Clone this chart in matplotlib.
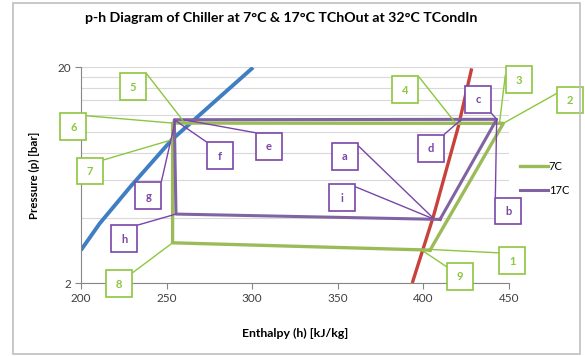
import numpy as np
import matplotlib
matplotlib.use('Agg')
import matplotlib.pyplot as plt
from matplotlib.patches import Rectangle
from matplotlib.offsetbox import AnnotationBbox, DrawingArea
from matplotlib.text import Text

plt.rcParams['font.family'] = ['Lato', 'DejaVu Sans']

# saturation lines
h_liq = [200, 211, 229, 253, 277, 300.5]
p_liq = [2.84, 3.78, 5.6, 9.2, 13.6, 19.9]
h_vap = [393.5, 405.8, 420.4, 428.2]
p_vap = [2.0, 4.06, 10.6, 19.7]

# cycles
h_7c = [403.9, 446.7, 253.5, 253.5, 403.9]
p_7c = [2.84, 10.97, 11.0, 3.07, 2.84]
h_17c = [409.7, 442.8, 254.5, 255.5, 409.7]
p_17c = [3.94, 11.45, 11.4, 4.17, 3.94]

# state point labels: text, box centre (h, p), point (h, p)
green_labels = ['1', '2', '3', '4', '5', '6', '7', '8', '9']
green_box_h = [451.8, 485.6, 455.8, 389.5, 230.4, 195.6, 205.0, 222.2, 421.2]
green_box_p = [2.53, 14.07, 17.5, 15.7, 16.25, 10.6, 6.6, 1.98, 2.15]
green_pt_h = [403.9, 446.7, 444.5, 418.0, 260.7, 253.5, 253.0, 253.5, 399.0]
green_pt_p = [2.86, 10.97, 11.1, 11.2, 11.0, 11.0, 9.2, 3.07, 2.84]
green_rel = [(0, 0.8), (0, 0.75), (0, 0.85), (1, 1), (1, 1), (1, 0.9), (1, 0.9), (1, 0.9), (0, 0.85)]

purple_labels = ['a', 'b', 'c', 'd', 'e', 'f', 'g', 'h', 'i']
purple_box_h = [354.2, 449.6, 431.9, 404.3, 309.7, 281.0, 239.3, 225.4, 352.5]
purple_box_p = [7.72, 4.31, 14.18, 8.41, 8.59, 7.78, 5.08, 3.21, 4.98]
purple_pt_h = [405.8, 442.8, 442.8, 422.0, 260.0, 254.5, 255.0, 255.5, 404.9]
purple_pt_p = [3.99, 11.45, 11.45, 11.4, 11.4, 11.4, 11.2, 4.17, 3.99]
purple_rel = [(1, 0.9), (0, 1), (1, 0), (1, 1), (0, 1), (0, 1), (1, 1), (1, 1), (1, 0.9)]

c_green = '#9BBB59'
c_purple = '#8064A2'
c_glab = '#8DC63F'
c_plab = '#7A45A8'


def box_label(ax, s, xy, xybox, relpos, col):
    da = DrawingArea(18.7, 19.4)
    da.add_artist(Text(9.35, 9.2, s, ha='center', va='center', color=col,
                       fontsize=8, fontweight='bold'))
    ab = AnnotationBbox(da, xy, xybox=xybox, xycoords='data', boxcoords='data',
                        pad=0, frameon=True,
                        bboxprops=dict(edgecolor=col, lw=1.2, facecolor='white'),
                        arrowprops=dict(arrowstyle='-', color=col, lw=1.0,
                                        relpos=relpos, shrinkA=0, shrinkB=0))
    ab.set_clip_on(False)
    ab.set_zorder(5)
    ax.add_artist(ab)


fig = plt.figure(figsize=(5.85, 3.56), dpi=100)
ax = fig.add_axes([81/585, 1-283/356, 428/585, 216/356])

ax.plot(h_liq, p_liq, color='#3F7EC2', lw=2.8, solid_capstyle='butt', zorder=2)
ax.plot(h_vap, p_vap, color='#C8423C', lw=2.4, solid_capstyle='butt', zorder=2)
ax.plot(h_7c, p_7c, color=c_green, lw=2.4, label='7C', zorder=3)
ax.plot(h_17c, p_17c, color=c_purple, lw=2.2, label='17C', zorder=3)

ax.set_yscale('log')
ax.set_xlim(200, 450)
ax.set_ylim(2, 20)
ax.set_xticks([200, 250, 300, 350, 400, 450])
ax.set_yticks([2, 20])
ax.set_yticklabels(['2', '20'])
ax.set_yticks(np.arange(4, 20, 2), minor=True)
ax.yaxis.set_minor_formatter(plt.NullFormatter())
ax.grid(True, axis='y', which='both', color='#D9D9D9', lw=0.8)
ax.set_axisbelow(True)
ax.tick_params(axis='y', which='minor', length=0)
ax.tick_params(axis='both', which='major', length=4, color='#868686',
               labelsize=8.5, labelcolor='#404040', pad=3)
for side in ['top', 'right']:
    ax.spines[side].set_visible(False)
for side in ['left', 'bottom']:
    ax.spines[side].set_color('#868686')

ax.set_xlabel('Enthalpy (h) [kJ/kg]', fontsize=8.8, fontweight='bold')
ax.set_ylabel('Pressure (p) [bar]', fontsize=8.3, fontweight='bold')
ax.xaxis.set_label_coords(0.5, -0.208)
ax.yaxis.set_label_coords(-0.096, 0.5)

for i in range(len(green_labels)):
    box_label(ax, green_labels[i], (green_pt_h[i], green_pt_p[i]),
              (green_box_h[i], green_box_p[i]), green_rel[i], c_glab)
for i in range(len(purple_labels)):
    box_label(ax, purple_labels[i], (purple_pt_h[i], purple_pt_p[i]),
              (purple_box_h[i], purple_box_p[i]), purple_rel[i], c_plab)

fig.legend(loc='center left', bbox_to_anchor=(520/585, 1-178.4/356), frameon=False,
           fontsize=8, handlelength=2.5, handletextpad=0.1, labelspacing=1.2,
           borderpad=0, borderaxespad=0)

fig.text(281/585, 1-18/356, 'p-h Diagram of Chiller at 7°C & 17°C TChOut at 32°C TCondIn',
         ha='center', va='center', fontsize=10.2, fontweight='bold')

fig.patches.append(Rectangle((13/585, 2/356), 567/585, 351/356, transform=fig.transFigure,
                             fill=False, edgecolor='#BFBFBF', lw=1.2))

fig.savefig('out.png', dpi=100)
